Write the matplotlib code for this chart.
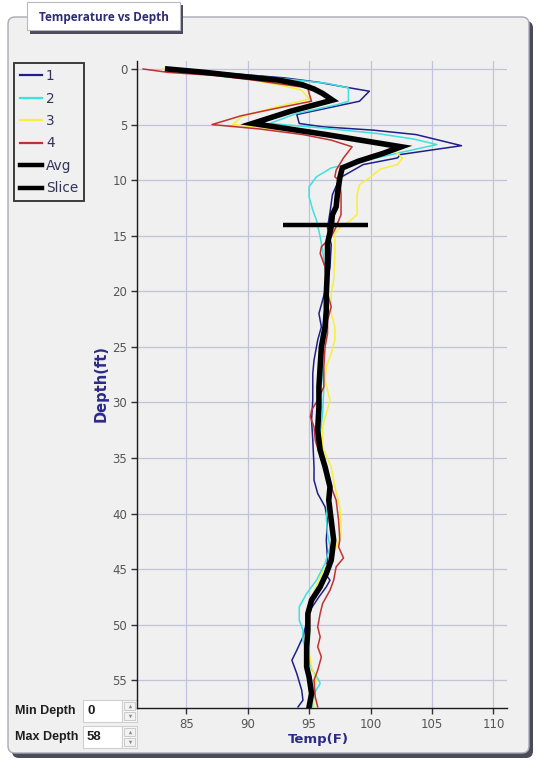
import numpy as np
import matplotlib
matplotlib.use("Agg")
import matplotlib.pyplot as plt
from matplotlib.patches import FancyBboxPatch, Rectangle
from matplotlib.lines import Line2D

# ---------------- data ----------------
depth_1 = [0, 0.4, 0.8, 1.2, 1.6, 2.0, 2.9, 4.1, 4.9, 5.2, 5.5, 5.9, 6.9, 7.7, 8.0, 8.6, 9.8,
           11.3, 12.9, 14.3, 15.8, 17.8, 19.6, 20.8, 22.0, 23.2, 24.4, 26.2, 27.4, 29.8, 31.6,
           33.4, 35.8, 37.0, 38.2, 39.4, 40.6, 42.4, 44.2, 45.4, 46.0, 46.6, 47.5, 48.5, 50.2,
           51.1, 52.3, 53.2, 54.4, 55.9, 56.8, 57.4]
temp_1 = [84.2, 88.5, 93.0, 95.8, 97.8, 99.9, 99.1, 94.0, 94.2, 96.1, 100.2, 103.7, 107.4, 102.4,
          102.2, 99.4, 97.5, 96.9, 96.7, 96.5, 96.8, 96.7, 96.4, 96.1, 95.8, 96.0, 95.7, 95.4,
          95.3, 95.3, 95.2, 95.3, 95.4, 95.4, 95.7, 96.3, 96.5, 96.4, 96.5, 96.3, 96.7, 96.4,
          95.8, 95.2, 94.7, 94.5, 94.0, 93.6, 94.0, 94.4, 94.5, 94.1]

depth_2 = [0, 0.5, 1.0, 1.3, 1.7, 2.9, 3.2, 4.0, 4.9, 5.3, 5.8, 6.3, 6.8, 7.5, 8.0, 8.5, 8.9,
           9.7, 10.6, 11.5, 12.7, 13.6, 15.1, 16.3, 18.0, 20.0, 22.0, 24.0, 26.0, 27.4, 28.6,
           31.0, 32.8, 35.0, 37.0, 38.5, 40.3, 41.8, 43.0, 44.5, 46.0, 47.2, 48.4, 49.6, 50.5,
           51.4, 52.9, 54.0, 55.0, 55.3, 56.2, 57.4]
temp_2 = [84.5, 89.5, 94.0, 96.5, 98.2, 98.2, 97.3, 94.0, 91.8, 96.0, 100.5, 103.5, 105.4, 102.5,
          100.5, 98.5, 96.8, 95.6, 95.0, 95.0, 95.3, 95.6, 95.9, 96.1, 96.3, 96.5, 96.3, 96.0,
          95.8, 96.1, 96.2, 96.1, 95.9, 96.0, 96.5, 96.6, 96.4, 96.5, 96.7, 96.3, 95.6, 94.8,
          94.2, 94.2, 94.5, 94.5, 94.9, 95.2, 95.8, 95.9, 95.4, 95.3]

depth_3 = [0, 0.5, 1.0, 1.5, 1.9, 2.7, 3.5, 4.3, 5.0, 5.5, 6.0, 6.6, 7.2, 8.0, 8.6, 9.0, 9.8,
           10.4, 11.3, 13.1, 13.6, 14.2, 14.8, 16.6, 19.0, 20.2, 22.0, 23.2, 24.4, 25.6, 26.8,
           28.0, 29.8, 31.0, 32.2, 34.0, 35.8, 37.6, 39.4, 40.6, 41.8, 43.0, 44.2, 44.8, 45.7,
           47.0, 48.5, 50.0, 51.5, 52.5, 53.8, 55.0, 56.0, 57.4]
temp_3 = [83.0, 87.0, 90.5, 92.8, 94.4, 95.0, 92.0, 89.5, 88.8, 93.0, 97.0, 100.0, 101.8, 102.6,
          102.2, 100.8, 99.9, 99.1, 98.9, 98.9, 98.4, 97.6, 97.1, 97.1, 97.0, 96.8, 96.8, 97.1,
          97.1, 96.8, 96.4, 96.3, 96.7, 96.4, 96.1, 96.1, 96.8, 97.1, 97.5, 97.6, 97.6, 97.2,
          96.8, 96.3, 95.9, 95.4, 95.1, 95.0, 94.9, 95.0, 95.2, 95.6, 95.3, 95.4]

depth_4 = [0, 0.3, 0.6, 1.0, 1.4, 1.7, 2.2, 2.9, 3.5, 4.2, 5.0, 5.4, 5.9, 6.4, 7.0, 8.0, 9.1,
           9.7, 10.1, 11.3, 13.1, 14.2, 15.1, 16.0, 16.6, 17.8, 19.0, 20.2, 21.4, 22.6, 23.8,
           25.0, 26.8, 28.6, 29.8, 30.7, 31.3, 32.2, 33.4, 35.2, 36.4, 37.6, 38.8, 40.6, 42.4,
           43.0, 44.0, 44.8, 46.0, 46.9, 48.1, 49.0, 50.2, 51.1, 52.0, 52.9, 54.1, 55.0, 56.5, 57.4]
temp_4 = [81.5, 83.5, 87.5, 90.5, 93.0, 94.9, 95.0, 95.2, 92.5, 89.5, 87.1, 91.0, 94.5, 96.8,
          98.5, 97.8, 97.2, 97.1, 97.5, 97.6, 97.6, 97.2, 96.8, 96.0, 95.9, 96.3, 96.4, 96.5,
          96.8, 96.5, 96.5, 96.3, 96.2, 96.2, 95.7, 95.2, 95.1, 95.4, 95.5, 96.0, 96.4, 96.8,
          97.2, 97.4, 97.5, 97.4, 97.8, 97.2, 97.0, 96.7, 96.1, 95.9, 95.7, 95.9, 95.7, 96.0,
          95.7, 95.4, 95.5, 95.7]

depth_avg = [0, 0.3, 0.6, 1.0, 1.4, 1.8, 2.2, 2.8, 3.8, 4.9, 5.9, 7.0, 7.6, 8.3, 8.9, 9.8, 11.3,
             12.4, 13.1, 14.2, 15.7, 17.8, 20.2, 21.7, 23.2, 25.0, 26.8, 28.6, 30.4, 32.5, 34.3,
             35.8, 37.6, 38.8, 40.6, 42.4, 44.2, 45.4, 46.6, 47.8, 49.0, 50.5, 52.0, 53.8, 54.7,
             56.2, 57.4]
temp_avg = [83.5, 86.5, 89.0, 92.5, 94.4, 95.4, 96.1, 96.9, 93.5, 90.4, 96.4, 102.5, 101.0, 99.0,
            97.7, 97.5, 97.3, 97.2, 96.9, 96.8, 96.5, 96.5, 96.4, 96.4, 96.3, 96.0, 95.9, 95.8,
            95.8, 95.7, 95.9, 96.3, 96.7, 96.6, 96.8, 97.0, 96.8, 96.4, 95.9, 95.2, 94.9, 94.9,
            94.8, 94.8, 95.0, 95.2, 95.0]

slice_depth = 14.0
slice_temps = [92.9, 99.8]

series_labels = ["1", "2", "3", "4", "Avg", "Slice"]
x_ticks = [85, 90, 95, 100, 105, 110]
y_ticks = list(range(0, 56, 5))
min_depth, max_depth = 0, 58

# ---------------- figure ----------------
W, H = 539, 774
fig = plt.figure(figsize=(W / 100, H / 100), dpi=100, facecolor="white")

bg = fig.add_axes([0, 0, 1, 1], zorder=0)
bg.set_xlim(0, W)
bg.set_ylim(H, 0)
bg.axis("off")

PANEL = "#f0f0f0"
# group panel with shadow
bg.add_patch(FancyBboxPatch((12, 21), 521, 737, boxstyle="round,pad=0,rounding_size=7",
                            fc="#4b4b5a", ec="none"))
bg.add_patch(FancyBboxPatch((8, 17), 521, 736, boxstyle="round,pad=0,rounding_size=7",
                            fc=PANEL, ec="#a9a9b4", lw=1))

# title tab
bg.add_patch(Rectangle((30, 5), 153, 29, fc="#4b4b5a", ec="none"))
bg.add_patch(Rectangle((27, 2), 153, 28, fc="white", ec="#b8b8c0", lw=0.8))
bg.text(104, 17.5, "Temperature vs Depth", ha="center", va="center", fontsize=8.5,
        fontweight="bold", family=["Open Sans", "DejaVu Sans"], color="#2c2c78")

# depth controls
def control(yc, label, value):
    bg.text(15, yc, label, ha="left", va="center", fontsize=9, fontweight="bold",
            family=["Liberation Sans", "DejaVu Sans"], color="#1e1e1e")
    bg.add_patch(Rectangle((83, yc - 11), 39, 22, fc="white", ec="#cfcfcf", lw=0.8))
    bg.add_patch(Rectangle((122, yc - 11), 15, 22, fc="#f7f7f7", ec="#cfcfcf", lw=0.8))
    bg.add_patch(Rectangle((124, yc - 9), 11, 8, fc="#f2f2f2", ec="#c4c4c4", lw=0.6))
    bg.add_patch(Rectangle((124, yc + 1), 11, 8, fc="#f2f2f2", ec="#c4c4c4", lw=0.6))
    bg.plot([129.5], [yc - 5], marker="^", ms=2.5, color="#8a8a8a", mec="none")
    bg.plot([129.5], [yc + 5], marker="v", ms=2.5, color="#8a8a8a", mec="none")
    bg.text(87, yc, str(value), ha="left", va="center", fontsize=9.5, fontweight="bold",
            family=["Liberation Sans", "DejaVu Sans"], color="#1e1e1e")

control(711, "Min Depth", min_depth)
control(737, "Max Depth", max_depth)

# ---------------- main axes ----------------
L, R, T, B = 137, 507, 61, 708
ax = fig.add_axes([L / W, 1 - B / H, (R - L) / W, (B - T) / H], zorder=2)
ax.patch.set_alpha(0)

c1, c2, c3, c4 = "#1f1f8a", "#3fe0e0", "#f7ef3c", "#c43030"
lw_s = 1.1
ax.plot(temp_1, depth_1, color=c1, lw=lw_s, zorder=3)
ax.plot(temp_2, depth_2, color=c2, lw=lw_s, zorder=3)
ax.plot(temp_3, depth_3, color=c3, lw=lw_s, zorder=3)
ax.plot(temp_4, depth_4, color=c4, lw=lw_s, zorder=3)
ax.plot(temp_avg, depth_avg, color="black", lw=4.0, zorder=4, solid_joinstyle="miter")
ax.plot(slice_temps, [slice_depth, slice_depth], color="black", lw=3.2,
        solid_capstyle="butt", zorder=5)

ax.set_xlim(81.0, 111.1)
ax.set_ylim(57.5, -0.72)
ax.set_xticks(x_ticks)
ax.set_yticks(y_ticks)
ax.grid(True, color="#c3c3dd", lw=0.9)
ax.set_axisbelow(True)
for s in ("top", "right"):
    ax.spines[s].set_visible(False)
for s in ("left", "bottom"):
    ax.spines[s].set_color("#1a1a1a")
    ax.spines[s].set_linewidth(1.0)
ax.tick_params(direction="out", length=4, width=1, color="#333333",
               labelcolor="#555555", labelsize=8.5, pad=3)
ax.tick_params(axis="x", pad=3)

ax.set_xlabel("Temp(F)", fontsize=9.5, fontweight="bold", color="#2b2b88")
ax.xaxis.set_label_coords((318 - L) / (R - L), (B - 733) / (B - T))
ax.set_ylabel("Depth(ft)", fontsize=10.5, fontweight="bold", color="#2b2b88")
ax.yaxis.set_label_coords((109 - L) / (R - L), (B - 383) / (B - T))

handles = [Line2D([], [], color=c1, lw=1.6), Line2D([], [], color=c2, lw=1.6),
           Line2D([], [], color=c3, lw=1.6), Line2D([], [], color=c4, lw=1.6),
           Line2D([], [], color="black", lw=3.2), Line2D([], [], color="black", lw=3.2)]
leg = ax.legend(handles, series_labels, loc="upper left",
                bbox_to_anchor=(14 / W, 1 - 63 / H), bbox_transform=fig.transFigure,
                borderaxespad=0, fontsize=9.8, handlelength=1.6, handletextpad=0.3,
                labelspacing=0.62, borderpad=0.45, fancybox=False, framealpha=1,
                facecolor=PANEL, edgecolor="#3c3c3c")
leg.get_frame().set_linewidth(1.4)
for t in leg.get_texts():
    t.set_color("#33335a")

fig.savefig("out.png", dpi=100, facecolor="white")
